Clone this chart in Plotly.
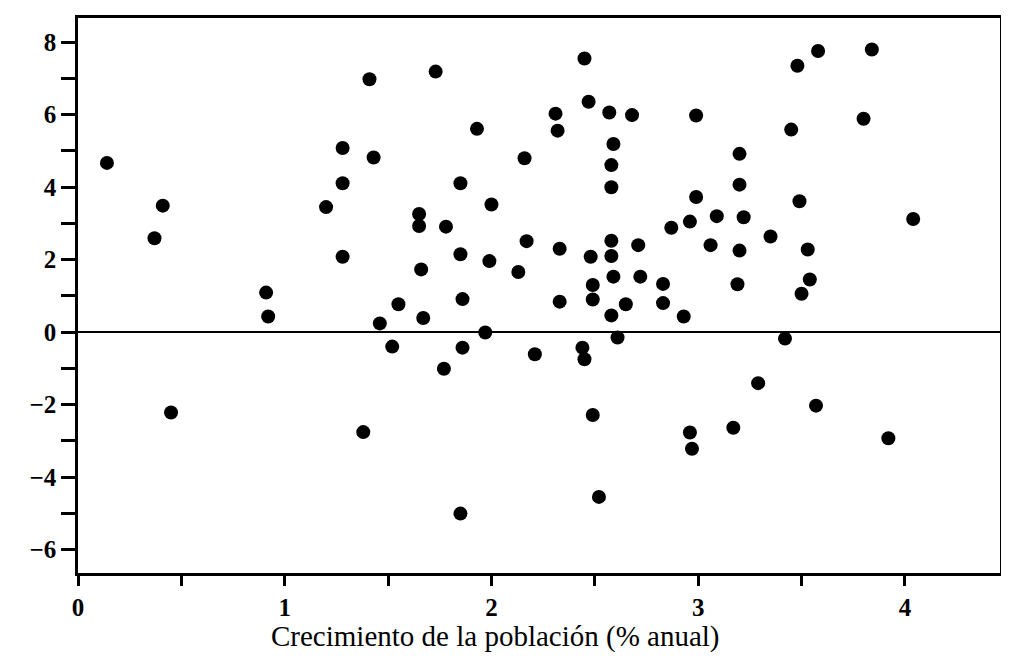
import plotly.graph_objects as go

# Population growth (% per year) vs. other variable
crecimiento = [
    0.14, 0.41, 0.37, 0.45, 0.91, 0.92, 1.20, 1.28, 1.28, 1.28,
    1.41, 1.43, 1.46, 1.52, 1.38, 1.55, 1.65, 1.65, 1.66, 1.67,
    1.73, 1.77, 1.78, 1.85, 1.86, 1.86, 1.85, 1.85, 1.93, 1.97,
    1.99, 2.00, 2.13, 2.16, 2.17, 2.21, 2.33, 2.33, 2.31, 2.32,
    2.44, 2.45, 2.49, 2.52, 2.45, 2.47, 2.48, 2.49, 2.49, 2.58,
    2.58, 2.58, 2.59, 2.57, 2.58, 2.58, 2.59, 2.61, 2.65, 2.68,
    2.71, 2.72, 2.83, 2.83, 2.87, 2.93, 2.96, 2.97, 2.96, 2.99,
    2.99, 3.06, 3.09, 3.17, 3.19, 3.20, 3.20, 3.20, 3.22, 3.29,
    3.35, 3.42, 3.45, 3.49, 3.48, 3.50, 3.53, 3.54, 3.57, 3.58,
    3.80, 3.84, 3.92, 4.04,
]
valor = [
    4.67, 3.49, 2.59, -2.22, 1.09, 0.43, 3.45, 5.08, 4.11, 2.08,
    6.98, 4.82, 0.24, -0.40, -2.76, 0.77, 3.26, 2.93, 1.73, 0.39,
    7.19, -1.01, 2.91, -5.01, -0.43, 0.91, 2.15, 4.11, 5.61, -0.01,
    1.96, 3.52, 1.66, 4.80, 2.51, -0.61, 0.84, 2.30, 6.03, 5.56,
    -0.43, -0.75, -2.29, -4.55, 7.55, 6.36, 2.08, 1.30, 0.90, 0.46,
    2.10, 2.52, 1.53, 6.06, 4.00, 4.61, 5.19, -0.15, 0.77, 5.99,
    2.40, 1.53, 1.33, 0.80, 2.88, 0.43, -2.77, -3.22, 3.05, 3.73,
    5.98, 2.40, 3.20, -2.64, 1.32, 2.25, 4.92, 4.07, 3.17, -1.41,
    2.64, -0.18, 5.59, 3.61, 7.35, 1.06, 2.28, 1.45, -2.03, 7.76,
    5.89, 7.80, -2.93, 3.12,
]

x_tick_vals = [0, 1, 2, 3, 4]
x_tick_text = ["0", "1", "2", "3", "4"]
y_tick_vals = [-6, -4, -2, 0, 2, 4, 6, 8]
y_tick_text = ["−6", "−4", "−2", "0", "2", "4", "6", "8"]
x_titulo = "Crecimiento de la población (% anual)"

fig = go.Figure(
    go.Scatter(
        x=crecimiento,
        y=valor,
        mode="markers",
        marker=dict(size=14, color="black", line=dict(width=0)),
        hoverinfo="x+y",
    )
)

serif = "Liberation Serif, Times New Roman, serif"

# The page body has an 8px default margin, so the figure is sized to fit
# the 1009x663 window once offset by it.
fig.update_layout(
    width=1001,
    height=655,
    margin=dict(l=70, r=9, t=10, b=90),
    paper_bgcolor="white",
    plot_bgcolor="white",
    showlegend=False,
    font=dict(family=serif, color="black"),
    annotations=[
        dict(
            text=x_titulo,
            xref="paper",
            yref="paper",
            x=0.453,
            y=0,
            xanchor="center",
            yanchor="middle",
            yshift=-63,
            showarrow=False,
            font=dict(family=serif, size=29, color="black"),
        )
    ],
)

fig.update_xaxes(
    range=[0.0, 4.46],
    automargin=False,
    tickvals=x_tick_vals,
    ticktext=x_tick_text,
    ticks="outside",
    ticklen=10,
    tickwidth=2.5,
    tickcolor="black",
    minor=dict(dtick=0.5, tick0=0, ticks="outside", ticklen=10, tickwidth=2.5, tickcolor="black"),
    tickfont=dict(family=serif, size=25, color="black", weight="bold"),
    showgrid=False,
    zeroline=False,
    showline=True,
    linecolor="black",
    linewidth=2.5,
    mirror=True,
)

fig.update_yaxes(
    range=[-6.65, 8.67],
    automargin=False,
    tickvals=y_tick_vals,
    ticktext=y_tick_text,
    ticks="outside",
    ticklen=14,
    tickwidth=2.5,
    tickcolor="black",
    minor=dict(dtick=1, tick0=0, ticks="outside", ticklen=14, tickwidth=2.5, tickcolor="black"),
    tickfont=dict(family=serif, size=25, color="black", weight="bold"),
    showgrid=False,
    zeroline=True,
    zerolinecolor="black",
    zerolinewidth=2,
    showline=True,
    linecolor="black",
    linewidth=2.5,
    mirror=True,
)

fig.write_html("out.html")
